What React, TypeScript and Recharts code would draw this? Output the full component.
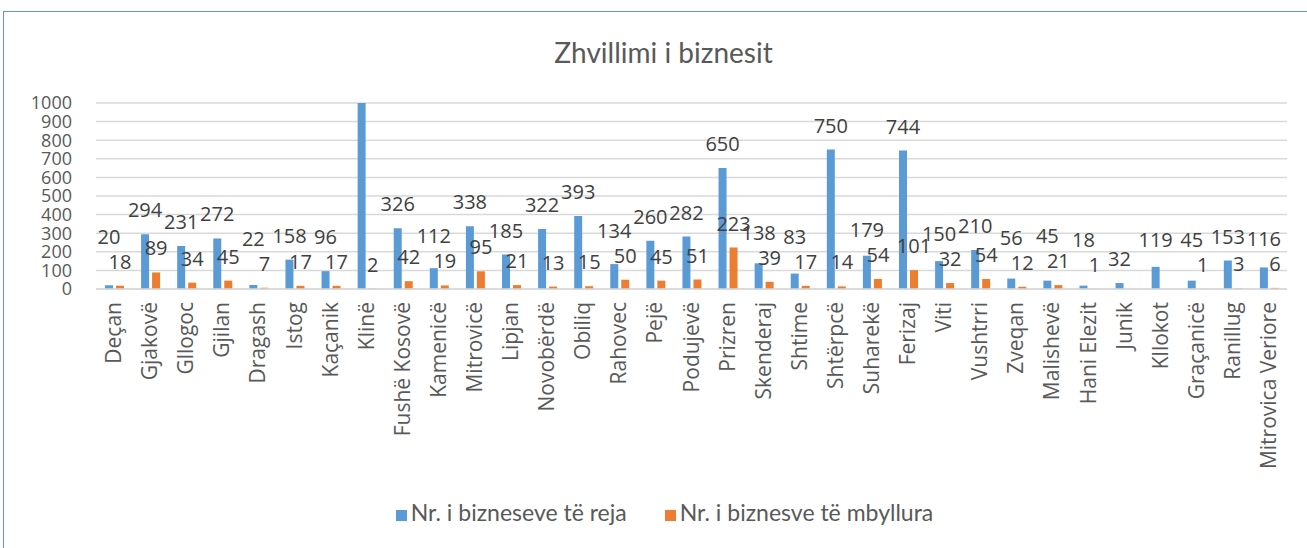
import { BarChart, Bar, XAxis, YAxis, CartesianGrid, Legend, LabelList } from 'recharts';

const municipalities = [
  'Deçan', 'Gjakovë', 'Gllogoc', 'Gjilan', 'Dragash', 'Istog', 'Kaçanik', 'Klinë',
  'Fushë Kosovë', 'Kamenicë', 'Mitrovicë', 'Lipjan', 'Novobërdë', 'Obiliq', 'Rahovec',
  'Pejë', 'Podujevë', 'Prizren', 'Skenderaj', 'Shtime', 'Shtërpcë', 'Suharekë', 'Ferizaj',
  'Viti', 'Vushtrri', 'Zveqan', 'Malishevë', 'Hani Elezit', 'Junik', 'Kllokot',
  'Graçanicë', 'Ranillug', 'Mitrovica Veriore',
];

const newBusinesses = [
  20, 294, 231, 272, 22, 158, 96, 1000, 326, 112, 338, 185, 322, 393, 134, 260, 282,
  650, 138, 83, 750, 179, 744, 150, 210, 56, 45, 18, 32, 119, 45, 153, 116,
];

const closedBusinesses: (number | null)[] = [
  18, 89, 34, 45, 7, 17, 17, 2, 42, 19, 95, 21, 13, 15, 50, 45, 51,
  223, 39, 17, 14, 54, 101, 32, 54, 12, 21, 1, null, 0, 1, 3, 6,
];

const yTicks = [0, 100, 200, 300, 400, 500, 600, 700, 800, 900, 1000];

const NEW_LABEL = 'Nr. i bizneseve të reja';
const CLOSED_LABEL = 'Nr. i biznesve të mbyllura';

const data = municipalities.map((name, i) => ({
  name,
  newB: newBusinesses[i],
  closedB: closedBusinesses[i],
}));

const FONT = '"Open Sans", sans-serif';
const TEXT = '#595959';
const LABEL_GAP = 17; // baseline above bar top
const ROW = 25; // min vertical spacing between stacked labels

function CatTick({ x, y, payload }: any) {
  return (
    <text
      x={x}
      y={y}
      transform={`rotate(-90, ${x}, ${y})`}
      dx={-5}
      dy={7}
      textAnchor="end"
      fill={TEXT}
      fontSize={21}
      fontFamily={FONT}
    >
      {payload.value}
    </text>
  );
}

function labelText(x: number, y: number, value: number) {
  return (
    <text x={x} y={y} textAnchor="middle" fill="#404040" fontSize={20} fontFamily={FONT}>
      {value}
    </text>
  );
}

// closed-business labels sit right above their bars
function ClosedLabel({ x, y, width, value }: any) {
  if (value == null) return null;
  return labelText(x + width / 2, y - LABEL_GAP, value);
}

// new-business labels are lifted over the closed label when the two would collide;
// the clipped Klinë bar has no label in the source
function NewLabel({ x, y, width, height, value, index }: any) {
  if (value == null || value >= 1000) return null;
  let ly = y - LABEL_GAP;
  const closed = index != null ? closedBusinesses[index] : null;
  if (closed != null && value > 0) {
    const base = y + height;
    const closedY = base - (closed * height) / value - LABEL_GAP;
    if (Math.abs(ly - closedY) < ROW) ly = Math.min(ly, closedY - ROW);
  }
  return labelText(x + width / 2, ly, value);
}

export default function App() {
  return (
    <div style={{ position: 'fixed', left: 0, top: 0, width: 1307, height: 548, background: '#fff' }}>
      <div
        style={{
          position: 'absolute',
          left: 3,
          top: 11,
          right: -2,
          bottom: -2,
          borderLeft: '1px solid #5B9BD5',
          borderTop: '1px solid #5B9BD5',
        }}
      />
      <div
        style={{
          position: 'absolute',
          top: 35,
          left: 20,
          right: 0,
          textAlign: 'center',
          fontFamily: 'Lato, sans-serif',
          fontSize: 28,
          color: TEXT,
        }}
      >
        Zhvillimi i biznesit
      </div>
      <BarChart
        width={1307}
        height={548}
        data={data}
        margin={{ top: 103, right: 20, bottom: 0, left: 0 }}
        barGap={3}
        barSize={8}
        style={{ position: 'absolute', left: 0, top: 0 }}
      >
        <CartesianGrid vertical={false} stroke="#D9D9D9" strokeWidth={1.5} />
        <XAxis
          dataKey="name"
          interval={0}
          height={209}
          tick={<CatTick />}
          tickLine={false}
          axisLine={{ stroke: '#D9D9D9', strokeWidth: 1.5 }}
        />
        <YAxis
          width={96}
          domain={[0, 1000]}
          ticks={yTicks}
          interval={0}
          allowDataOverflow
          tickLine={false}
          axisLine={false}
          tickSize={0}
          tickMargin={24}
          tick={{ fill: TEXT, fontSize: 18, fontFamily: FONT }}
        />
        <Legend
          verticalAlign="bottom"
          height={50}
          iconType="square"
          iconSize={11}
          wrapperStyle={{ fontFamily: 'Lato, sans-serif', fontSize: 23, paddingLeft: 80, boxSizing: 'border-box' }}
          formatter={(v: string) => <span style={{ color: TEXT, marginRight: 28 }}>{v}</span>}
        />
        <Bar dataKey="newB" name={NEW_LABEL} fill="#5B9BD5" isAnimationActive={false}>
          <LabelList dataKey="newB" content={<NewLabel />} />
        </Bar>
        <Bar dataKey="closedB" name={CLOSED_LABEL} fill="#ED7D31" isAnimationActive={false}>
          <LabelList dataKey="closedB" content={<ClosedLabel />} />
        </Bar>
      </BarChart>
    </div>
  );
}
